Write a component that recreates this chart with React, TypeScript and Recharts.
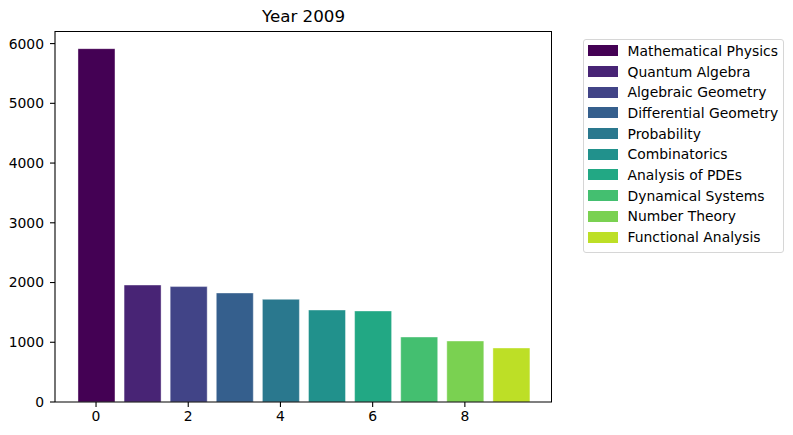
import React from 'react';
import { BarChart, Bar, XAxis, YAxis, Cell } from 'recharts';

const categories = [
  'Mathematical Physics',
  'Quantum Algebra',
  'Algebraic Geometry',
  'Differential Geometry',
  'Probability',
  'Combinatorics',
  'Analysis of PDEs',
  'Dynamical Systems',
  'Number Theory',
  'Functional Analysis',
];
const values = [5915, 1958, 1932, 1825, 1719, 1540, 1524, 1088, 1021, 904];
const colors = [
  '#440154', '#482475', '#414487', '#355f8d', '#2a788e',
  '#21918c', '#22a884', '#44bf70', '#7ad151', '#bddf26',
];
const xTicks = [0, 2, 4, 6, 8];
const yTicks = [0, 1000, 2000, 3000, 4000, 5000, 6000];
const title = 'Year 2009';

const data = values.map((v, i) => ({ x: i, value: v, name: categories[i] }));

const FONT = '"DejaVu Sans", sans-serif';

export default function App() {
  const tickStyle = { fill: '#000', fontSize: 13.9, fontFamily: FONT };
  return (
    <div style={{ position: 'absolute', left: 0, top: 0, width: 793, height: 435, background: '#fff' }}>
      <div
        style={{
          position: 'absolute',
          left: 55,
          width: 497,
          top: 6,
          textAlign: 'center',
          fontFamily: FONT,
          fontSize: 16.7,
          color: '#000',
          lineHeight: '20px',
        }}
      >
        {title}
      </div>
      <BarChart
        width={793}
        height={435}
        data={data}
        margin={{ top: 31, right: 241, bottom: 3, left: 5 }}
      >
        <XAxis
          dataKey="x"
          type="number"
          domain={[-0.89, 9.89]}
          ticks={xTicks}
          allowDataOverflow
          height={30}
          tickSize={5}
          tickMargin={4}
          tick={tickStyle}
          stroke="#000"
          axisLine={{ stroke: '#000', strokeWidth: 1.1 }}
          tickLine={{ stroke: '#000', strokeWidth: 1.1 }}
        />
        <YAxis
          type="number"
          domain={[0, (max: number) => max * 1.05]}
          ticks={yTicks}
          allowDataOverflow
          width={50}
          tickSize={5}
          tickMargin={6}
          tick={tickStyle}
          axisLine={{ stroke: '#000', strokeWidth: 1.1 }}
          tickLine={{ stroke: '#000', strokeWidth: 1.1 }}
        />
        <Bar dataKey="value" isAnimationActive={false} barSize={37} stroke="rgba(255,255,255,0.5)" strokeWidth={0.8}>
          {data.map((d, i) => (
            <Cell key={d.name} fill={colors[i]} />
          ))}
        </Bar>
      </BarChart>
      <div
        style={{
          position: 'absolute',
          left: 55,
          top: 31,
          width: 497,
          height: 371,
          borderTop: '1.1px solid #000',
          borderRight: '1.1px solid #000',
          boxSizing: 'border-box',
          pointerEvents: 'none',
        }}
      />
      <div
        style={{
          position: 'absolute',
          left: 583,
          top: 39,
          width: 199,
          height: 211,
          border: '1px solid #d6d6d6',
          borderRadius: 3,
          paddingTop: 0.5,
          boxSizing: 'content-box',
          fontFamily: FONT,
          fontSize: 13.9,
          color: '#000',
        }}
      >
        {categories.map((c, i) => (
          <div key={c} style={{ height: 20.7, display: 'flex', alignItems: 'center', whiteSpace: 'nowrap' }}>
            <div style={{ width: 30, height: 11, marginLeft: 3.5, marginRight: 10, background: colors[i] }} />
            <span>{c}</span>
          </div>
        ))}
      </div>
    </div>
  );
}
